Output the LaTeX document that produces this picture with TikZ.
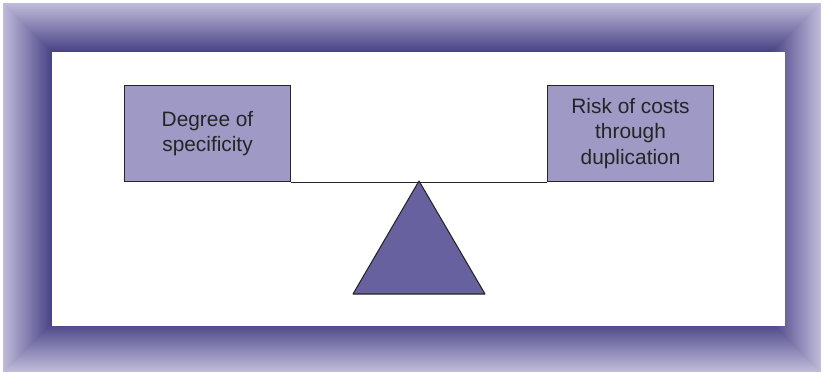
\documentclass[tikz,border=0pt]{standalone}
\usepackage{fontspec}
\setmainfont{Liberation Sans}
\usetikzlibrary{positioning}
\definecolor{frameLight}{HTML}{BFBBDA}
\definecolor{frameDark}{HTML}{4A4486}
\definecolor{boxFill}{HTML}{9E99C5}
\definecolor{fulcFill}{HTML}{67619F}
\definecolor{inkGray}{HTML}{262425}
\tikzset{
  weight/.style={draw=inkGray, line width=0.9pt, fill=boxFill, minimum width=4.98cm, minimum height=2.88cm,
    align=center, text=inkGray, font=\fontsize{17.8}{22}\selectfont, inner sep=0pt},
  fulcrum/.style={draw=inkGray, line width=0.9pt, fill=fulcFill, line join=round},
  beam/.style={draw=inkGray, line width=0.9pt}
}
\begin{document}
\begin{tikzpicture}[x=0.03cm, y=-0.03cm]
\useasboundingbox (0,0) rectangle (823,374);
% bevelled frame
\foreach \i in {0,...,48}{
  \pgfmathsetmacro\pct{100*\i/48}
  \fill[frameDark!\pct!frameLight] (3+\i,3+\i) rectangle (821-\i,372-\i);
}
\fill[white] (52,52) rectangle (785,326);
\node[weight, anchor=north west] (spec) at (124,85) {Degree of\\specificity};
\node[weight, anchor=north west] (risk) at (547,85) {Risk of costs\\through\\duplication};
\coordinate (pivot) at (419,181);
\coordinate (baseL) at (353,294);
\coordinate (baseR) at (485,294);
\draw[beam] (spec.south east) -- (risk.south west);
\draw[fulcrum] (pivot) -- (baseL) -- (baseR) -- cycle;
\end{tikzpicture}
\end{document}
